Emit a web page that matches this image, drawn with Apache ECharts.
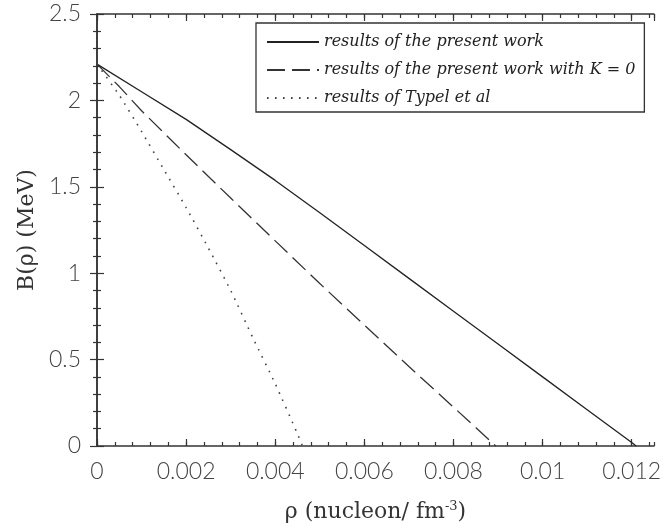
<!DOCTYPE html>
<html>
<head>
<meta charset="utf-8">
<script src="https://cdn.jsdelivr.net/npm/echarts@6/dist/echarts.min.js"></script>
<style>html,body{margin:0;padding:0;background:#fff}#c{width:666px;height:529px}</style>
</head>
<body>
<div id="c"></div>
<script>
// Data
const seriesNames = ['results of the present work', 'results of the present work with K = 0', 'results of Typel et al'];
const rhoPresent = [0, 0.001, 0.002, 0.003, 0.004, 0.005, 0.006, 0.007, 0.008, 0.009, 0.010, 0.011, 0.012, 0.0121];
const bPresent   = [2.21, 2.05, 1.89, 1.715, 1.537, 1.35, 1.16, 0.97, 0.78, 0.59, 0.40, 0.21, 0.02, 0];
const rhoK0 = [0, 0.0005, 0.001, 0.002, 0.003, 0.004, 0.005, 0.006, 0.007, 0.008, 0.00895];
const bK0   = [2.21, 2.08, 1.94, 1.685, 1.435, 1.187, 0.94, 0.70, 0.46, 0.225, 0];
const rhoTypel = [0, 0.0005, 0.001, 0.0015, 0.002, 0.0025, 0.003, 0.0035, 0.004, 0.0045, 0.00461];
const bTypel   = [2.21, 2.03, 1.82, 1.60, 1.38, 1.145, 0.90, 0.625, 0.36, 0.07, 0];
const xTicks = [0, 0.002, 0.004, 0.006, 0.008, 0.01, 0.012];
const yTicks = [0, 0.5, 1, 1.5, 2, 2.5];

const pairs = (xs, ys) => xs.map((x, i) => [x, ys[i]]);
const axisColor = '#333';
const labelStyle = { fontFamily: 'Lato', fontWeight: 300, fontSize: 23, color: '#444' };
const xMin = 0, xMax = 0.0125, yMin = 0, yMax = 2.5;

function xAx(pos, major, withLabels) {
  return {
    type: 'value', position: pos, min: xMin, max: xMax,
    interval: major ? xTicks[1] - xTicks[0] : 0.0004,
    axisLine: { show: major, lineStyle: { color: axisColor, width: 1.5 } },
    axisTick: { show: true, inside: true, length: major ? 7 : 4, lineStyle: { color: axisColor, width: 1.2 } },
    axisLabel: withLabels ? Object.assign({ show: true, margin: 14, showMaxLabel: false,
      formatter: v => String(+v.toFixed(4)) }, labelStyle) : { show: false },
    splitLine: { show: false }
  };
}
function yAx(pos, withLabels) {
  return {
    type: 'value', position: pos, min: yMin, max: yMax, interval: yTicks[1] - yTicks[0],
    axisLine: { show: true, lineStyle: { color: axisColor, width: 1.5 } },
    axisTick: { show: true, inside: true, length: 7, lineStyle: { color: axisColor, width: 1.2 } },
    minorTick: { show: true, splitNumber: 5, length: 4, lineStyle: { color: axisColor, width: 1.2 } },
    axisLabel: withLabels ? Object.assign({ show: true, margin: 16 }, labelStyle) : { show: false },
    splitLine: { show: false }, minorSplitLine: { show: false }
  };
}

const xMain = xAx('bottom', true, true);
Object.assign(xMain, {
  name: '{a|ρ (nucleon/ fm}{s|-3}{a|)}',
  nameLocation: 'middle', nameGap: 54,
  nameTextStyle: { rich: {
    a: { fontFamily: 'DejaVu Serif', fontSize: 22, color: '#333' },
    s: { fontFamily: 'DejaVu Serif', fontSize: 13, color: '#333', verticalAlign: 'top', padding: [0, 0, 12, 0] }
  } }
});
const yMain = yAx('left', true);
Object.assign(yMain, {
  name: 'B(ρ) (MeV)', nameLocation: 'middle', nameGap: 58,
  nameTextStyle: { fontFamily: 'DejaVu Serif', fontSize: 22, color: '#333' }
});

const option = {
  animation: false,
  backgroundColor: '#fff',
  grid: { left: 97, right: 12, top: 14, bottom: 83, containLabel: false },
  xAxis: [xMain, xAx('bottom', false, false), xAx('top', true, false), xAx('top', false, false)],
  yAxis: [yMain, yAx('right', false)],
  legend: {
    orient: 'vertical', left: 256, top: 23,
    itemWidth: 52, itemHeight: 16, itemGap: 12,
    padding: [11, 9, 6, 10],
    borderColor: '#333', borderWidth: 1.3,
    backgroundColor: '#fff',
    itemStyle: { opacity: 0 },
    textStyle: { fontFamily: 'DejaVu Serif', fontStyle: 'italic', fontSize: 16, color: '#222' },
    data: seriesNames
  },
  series: [
    { name: seriesNames[0], type: 'line', data: pairs(rhoPresent, bPresent), showSymbol: false, symbol: 'none',
      lineStyle: { color: '#222', width: 1.3, type: 'solid' } },
    { name: seriesNames[1], type: 'line', data: pairs(rhoK0, bK0), showSymbol: false, symbol: 'none',
      lineStyle: { color: '#333', width: 1.3, type: [18, 7] } },
    { name: seriesNames[2], type: 'line', data: pairs(rhoTypel, bTypel), showSymbol: false, symbol: 'none', smooth: 0.2,
      lineStyle: { color: '#444', width: 1.6, type: [1.6, 6.4] } }
  ]
};
echarts.init(document.getElementById('c')).setOption(option);
</script>
</body>
</html>
